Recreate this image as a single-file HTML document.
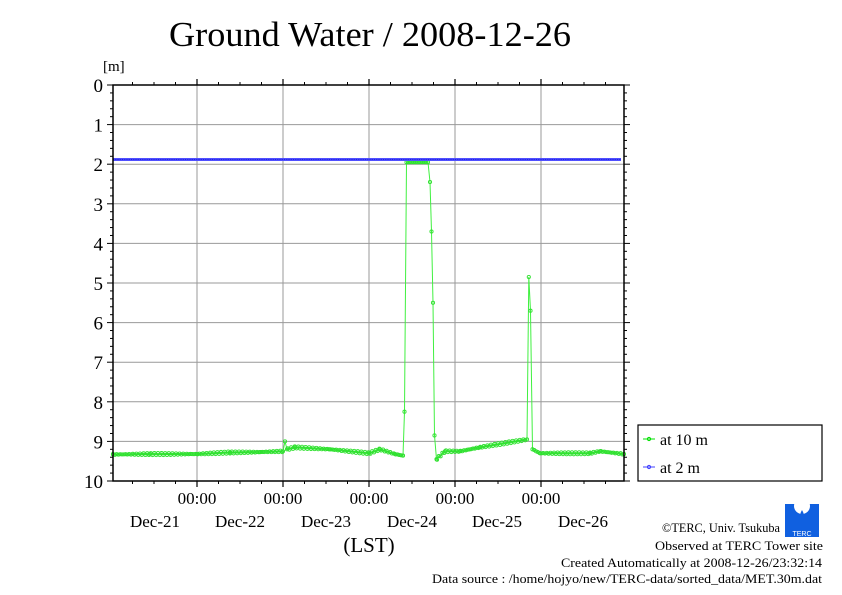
<!DOCTYPE html>
<html><head><meta charset="utf-8"><style>
html,body{margin:0;padding:0;background:#fff;}
svg{display:block;font-family:"Liberation Serif",serif;}
</style></head><body>
<svg id="s" width="842" height="595" viewBox="0 0 842 595" xmlns="http://www.w3.org/2000/svg">
<text x="370" y="46" font-size="35" text-anchor="middle" textLength="402" lengthAdjust="spacingAndGlyphs">Ground Water / 2008-12-26</text>
<text x="103" y="71" font-size="15">[m]</text>
<g id="grid"></g>
<g id="data"></g>
<rect x="113" y="85" width="511" height="396" fill="none" stroke="#000" stroke-width="1.5"/>
<g font-size="17" text-anchor="middle">
<text x="197" y="504">00:00</text><text x="283" y="504">00:00</text><text x="369" y="504">00:00</text><text x="455" y="504">00:00</text><text x="541" y="504">00:00</text>
<text x="155" y="527">Dec-21</text><text x="240" y="527">Dec-22</text><text x="326" y="527">Dec-23</text><text x="412" y="527">Dec-24</text><text x="497" y="527">Dec-25</text><text x="583" y="527">Dec-26</text>
<text x="369" y="552" font-size="21">(LST)</text>
</g>
<rect x="638" y="425" width="184" height="56" fill="#fff" stroke="#000" stroke-width="1.2"/>
<line x1="643" y1="439" x2="655" y2="439" stroke="#00e000"/><circle cx="649" cy="439" r="1.6" fill="none" stroke="#00e000"/>
<text x="660" y="445" font-size="16">at 10 m</text>
<line x1="643" y1="467" x2="655" y2="467" stroke="#4040ff"/><circle cx="649" cy="467" r="1.6" fill="none" stroke="#4040ff"/>
<text x="660" y="473" font-size="16">at 2 m</text>
<g font-size="12.5">
<text x="662" y="532" textLength="118" lengthAdjust="spacingAndGlyphs">©TERC, Univ. Tsukuba</text>
<text x="655" y="550" textLength="168" lengthAdjust="spacingAndGlyphs">Observed at TERC Tower site</text>
<text x="561" y="567" textLength="261" lengthAdjust="spacingAndGlyphs">Created Automatically at 2008-12-26/23:32:14</text>
<text x="432" y="583" textLength="390" lengthAdjust="spacingAndGlyphs">Data source : /home/hojyo/new/TERC-data/sorted_data/MET.30m.dat</text>
</g>
<g>
<rect x="785" y="504" width="34" height="33" fill="#1060e0"/>
<circle cx="802" cy="506" r="8" fill="#fff"/>
<path d="M802 510 q-4 7 0 9 q4 -2 0 -9z" fill="#1060e0"/>
<text x="802" y="536" font-size="7" fill="#fff" text-anchor="middle" font-family="Liberation Sans,sans-serif">TERC</text>
</g>
</svg>
<script>
var NS="http://www.w3.org/2000/svg",g=document.getElementById('grid'),d=document.getElementById('data');
function el(p,t,a){var e=document.createElementNS(NS,t);for(var k in a)e.setAttribute(k,a[k]);p.appendChild(e);return e;}
var X0=113,X1=624,Y0=85,K=39.6;
for(var i=1;i<10;i++){var y=Y0+K*i;el(g,'line',{x1:X0,x2:X1,y1:y,y2:y,stroke:'#999','stroke-width':1});}
var vx=[197,283,369,455,541];
vx.forEach(function(x){el(g,'line',{x1:x,x2:x,y1:Y0,y2:481,stroke:'#999','stroke-width':1});el(g,'line',{x1:x,x2:x,y1:481,y2:487,stroke:'#000','stroke-width':1.2});el(g,'line',{x1:x,x2:x,y1:85,y2:79,stroke:'#000','stroke-width':1.2});});
for(var x=197-86;x<X1;x+=21.5){if(x<X0)continue;el(g,'line',{x1:x,x2:x,y1:481,y2:484,stroke:'#000'});el(g,'line',{x1:x,x2:x,y1:85,y2:82,stroke:'#000'});}
for(var i=0;i<=50;i++){var y=Y0+K*i/5,big=i%5==0;el(g,'line',{x1:X0,x2:X0-(big?6:3),y1:y,y2:y,stroke:'#000'});el(g,'line',{x1:X1,x2:X1+(big?6:3),y1:y,y2:y,stroke:'#000'});}
for(var i=0;i<=10;i++){var t=el(g,'text',{x:103,y:Y0+K*i+7,'font-size':19,'text-anchor':'end'});t.textContent=i;}
var kp=[[113,9.33],[150,9.32],[197,9.32],[230,9.28],[260,9.27],[283,9.25],[285,9.0],[287,9.2],[295,9.15],[330,9.2],[369,9.3],[380,9.2],[395,9.32],[403,9.36],[404.5,8.25],[406.5,1.95],[428,1.95],[430,2.45],[431.5,3.7],[433,5.5],[434.5,8.85],[436.5,9.45],[445,9.25],[460,9.25],[480,9.15],[527,8.95],[528.8,4.85],[530.5,5.7],[532.5,9.2],[540,9.3],[590,9.3],[600,9.25],[624,9.32]];
var pts=[];
for(var x=X0;x<=X1;x+=1.8){var v;v=undefined;for(var j=0;j<kp.length-1;j++){if(x>=kp[j][0]&&x<=kp[j+1][0]){if(kp[j+1][0]-kp[j][0]<3)break;var f=(x-kp[j][0])/(kp[j+1][0]-kp[j][0]);v=kp[j][1]+f*(kp[j+1][1]-kp[j][1]);break;}}if(v===undefined)continue;if(Math.abs(v-9.2)<0.4)v+=Math.sin(x*1.7)*0.025;pts.push([x,Y0+K*v]);}
kp.forEach(function(p){pts.push([p[0],Y0+K*p[1]]);});pts.sort(function(a,b){return a[0]-b[0];});
el(d,'polyline',{points:pts.map(function(p){return p.join(',')}).join(' '),fill:'none',stroke:'#40f040','stroke-width':1});
pts.forEach(function(p){el(d,'circle',{cx:p[0],cy:p[1],r:1.6,fill:'none',stroke:'#30e030','stroke-width':0.9});});
var yb=Y0+K*1.88;
el(d,'line',{x1:X0,x2:X1-3,y1:yb,y2:yb,stroke:'#5050ff','stroke-width':3});
el(d,'line',{x1:X0,x2:X1-3,y1:yb,y2:yb,stroke:'#2020e0','stroke-width':1,'stroke-dasharray':'1 0.8'});
</script>
</body></html>
